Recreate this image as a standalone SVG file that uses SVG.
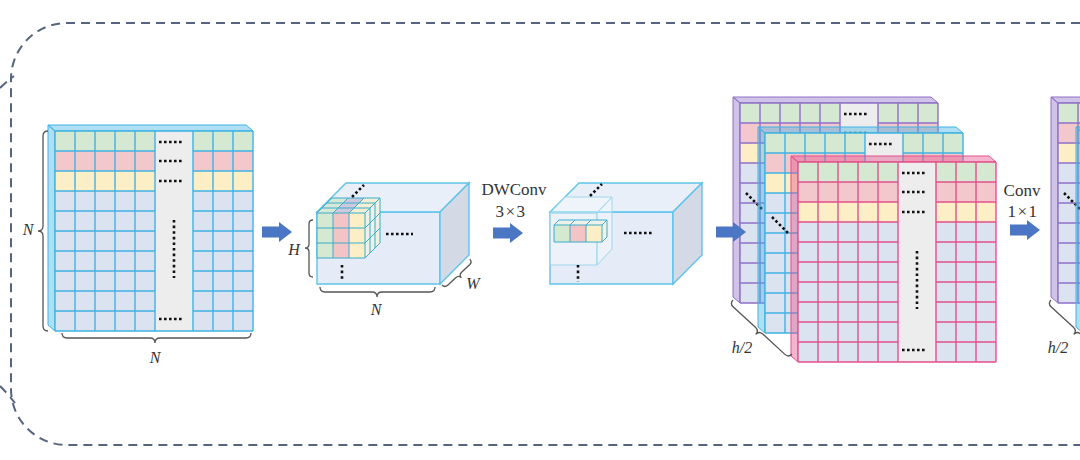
<svg xmlns="http://www.w3.org/2000/svg" xmlns:xlink="http://www.w3.org/1999/xlink" width="1080" height="460" viewBox="0 0 1080 460">
<style>
.slab{fill:currentColor;fill-opacity:.42;stroke:currentColor;stroke-width:1}
.gl{fill:none;stroke:currentColor;stroke-width:1.4}
.dots{fill:none;stroke:#111;stroke-width:2.6;stroke-dasharray:2.6 2.4}
.vdots{fill:none;stroke:#111;stroke-width:2.6;stroke-dasharray:2.6 3}
.front{fill:#e5ecf8;stroke:#5ec3ea;stroke-width:1.4}
.top{fill:#e9eff9;stroke:#5ec3ea;stroke-width:1.4}
.side{fill:#d3dae5;stroke:#5ec3ea;stroke-width:1.4}
.cl{fill:none;stroke:#3aaccc;stroke-width:1}
.ghost{fill:#ffffff;fill-opacity:.3;stroke:#9fd6ec;stroke-width:1}
.brace{fill:none;stroke:#555;stroke-width:1.3}
.lbl{font-family:"Liberation Serif","Times New Roman",serif;font-style:italic;font-size:16px;fill:#333;text-anchor:middle}
.op{font-family:"Liberation Serif","Times New Roman",serif;font-size:17px;fill:#333;text-anchor:middle}
.arrow{fill:#4a76c4}
.frame{fill:none;stroke:#56647f;stroke-width:2;stroke-dasharray:9 6}
</style>
<defs>
<g id="grid">
<path class="slab" d="M-7,-6H191L198,0H0ZM-7,-6L0,0V200L-7,194Z"/>
<rect width="198" height="200" fill="#dce3f0"/>
<rect width="198" height="20" fill="#d5e8d1"/>
<rect y="20" width="198" height="20" fill="#f3c8cc"/>
<rect y="40" width="198" height="20" fill="#fcefc5"/>
<rect x="100" width="38" height="200" fill="#ededed"/>
<path class="gl" d="M0,0V200M20,0V200M40,0V200M60,0V200M80,0V200M100,0V200M138,0V200M158,0V200M178,0V200M198,0V200M0,0H100M0,20H100M0,40H100M0,60H100M0,80H100M0,100H100M0,120H100M0,140H100M0,160H100M0,180H100M0,200H100M138,0H198M138,20H198M138,40H198M138,60H198M138,80H198M138,100H198M138,120H198M138,140H198M138,160H198M138,180H198M138,200H198M100,0H138M100,200H138"/>
<path class="dots" d="M104,11H129M104,30H129M104,50H129M104,188H129"/>
<path class="vdots" d="M119,89V147"/>
</g>
<g id="box">
<polygon class="front" points="317,212 440,212 440,284 317,284"/>
<polygon class="top" points="317,212 346,183 469,183 440,212"/>
<polygon class="side" points="440,212 469,183 469,255 440,284"/>
</g>
<path id="arr" d="M0,-5.5H17V-10L30,0L17,10V5.5H0Z"/>
</defs>

<g id="frame">
<path class="frame" d="M1080,23H67A56,56 0 0 0 11,79V389A56,56 0 0 0 67,445H1080"/>
<path class="frame" d="M0,88Q7,81 14,76"/>
<path class="frame" d="M0,386Q8,394 15,403"/>
</g>

<g id="input-grid">
<use xlink:href="#grid" href="#grid" x="55" y="131" color="#3fb2e4"/>
<path class="brace" d="M48,131Q43,131 43,136V226Q43,231 38,231Q43,231 43,236V326Q43,331 48,331"/>
<text class="lbl" x="28" y="235">N</text>
<path class="brace" d="M62,333Q62,338 67,338H150Q155,338 155,343Q155,338 160,338H246Q251,338 251,333"/>
<text class="lbl" x="155" y="363">N</text>
</g>

<g id="cube-hwn">
<use xlink:href="#box" href="#box"/>
<polygon points="317,213 365,213 380,198 332,198" fill="#e3e6ee"/>
<polygon points="317,213 333,213 348,198 332,198" fill="#d7e9d6"/>
<polygon points="333,213 349,213 364,198 348,198" fill="#cdc8dc"/>
<polygon points="349,213 365,213 380,198 364,198" fill="#f5efd3"/>
<polygon points="365,213 380,198 380,243 365,258" fill="#eef2e6"/>
<rect x="317" y="213" width="16" height="45" fill="#d5e8d1"/>
<rect x="333" y="213" width="16" height="45" fill="#f3c4c6"/>
<rect x="349" y="213" width="16" height="45" fill="#fcefc8"/>
<path class="cl" d="M317,213H365M317,228H365M317,243H365M317,258H365M317,213V258M333,213V258M349,213V258M365,213V258M317,213L332,198M333,213L348,198M349,213L364,198M365,213L380,198M322,208H370M327,203H375M332,198H380M370,208V253M375,203V248M380,198V243M365,228L380,213M365,243L380,228M365,258L380,243"/>
<path class="dots" d="M352,197L364,185"/>
<path class="dots" d="M386,234H413"/>
<path class="vdots" d="M342,265V281"/>
<path class="brace" d="M313,220Q309,220 309,224V244Q309,248 305,248Q309,248 309,252V273Q309,277 313,277"/>
<text class="lbl" x="294" y="255">H</text>
<path class="brace" d="M320,287Q320,292 325,292H372Q377,292 377,297Q377,292 382,292H430Q435,292 435,287"/>
<text class="lbl" x="376" y="315">N</text>
<path class="brace" transform="translate(442,285) rotate(-43)" d="M0,0Q0,4 4,4H15Q19,4 19,8Q19,4 23,4H34Q38,4 38,0"/>
<text class="lbl" x="473" y="289">W</text>
</g>

<g id="dwconv-cube">
<use xlink:href="#box" href="#box" x="233" y="0"/>
<polygon class="ghost" points="550,213 597,213 597,265 550,265"/>
<polygon class="ghost" points="550,213 565,197 612,197 597,213"/>
<polygon class="ghost" points="597,213 612,197 612,249 597,265"/>
<polygon points="554,225 602,225 607,220 559,220" fill="#eef1ea"/>
<polygon points="602,225 607,220 607,237 602,242" fill="#f4f1e2"/>
<rect x="554" y="225" width="16" height="17" fill="#d5e8d1"/>
<rect x="570" y="225" width="16" height="17" fill="#f3c4c6"/>
<rect x="586" y="225" width="16" height="17" fill="#fcefc8"/>
<path class="cl" d="M554,225H602V242H554ZM570,225V242M586,225V242M554,225L559,220H607L602,225M570,225L575,220M586,225L591,220M607,220V237L602,242"/>
<path class="dots" d="M590,196L602,184"/>
<path class="dots" d="M624,233H652"/>
<path class="vdots" d="M578,265V282"/>
</g>

<g id="stack-grids">
<use xlink:href="#grid" href="#grid" x="740" y="103" color="#8e70c8"/>
<path class="dots" d="M746,193L762,209"/>
<use xlink:href="#grid" href="#grid" x="765" y="133" color="#40b2e2"/>
<path class="dots" d="M772,217L788,233"/>
<use xlink:href="#grid" href="#grid" x="798" y="162" color="#e4508c"/>
<path class="brace" transform="translate(733,300) rotate(42.5)" d="M0,0Q0,5 5,5H35Q40,5 40,10Q40,5 45,5H75Q80,5 80,0"/>
<text class="lbl" x="742" y="353">h/2</text>
</g>

<g id="stack-grids-2">
<use xlink:href="#grid" href="#grid" x="1058" y="103" color="#8e70c8"/>
<path class="dots" d="M1064,193L1080,209"/>
<use xlink:href="#grid" href="#grid" x="1083" y="133" color="#40b2e2"/>
<path class="brace" transform="translate(1051,300) rotate(42.5)" d="M0,0Q0,5 5,5H35Q40,5 40,10Q40,5 45,5H75Q80,5 80,0"/>
<text class="lbl" x="1058" y="353">h/2</text>
</g>

<g id="connectors">
<use xlink:href="#arr" href="#arr" class="arrow" x="262" y="232"/>
<use xlink:href="#arr" href="#arr" class="arrow" x="493" y="233"/>
<use xlink:href="#arr" href="#arr" class="arrow" x="716" y="232"/>
<use xlink:href="#arr" href="#arr" class="arrow" x="1010" y="230"/>
<text class="op" x="514" y="195">DWConv</text>
<text class="op" x="511" y="217" letter-spacing="1.5">3×3</text>
<text class="op" x="1022" y="196">Conv</text>
<text class="op" x="1023" y="217" letter-spacing="1.5">1×1</text>
</g>
</svg>
